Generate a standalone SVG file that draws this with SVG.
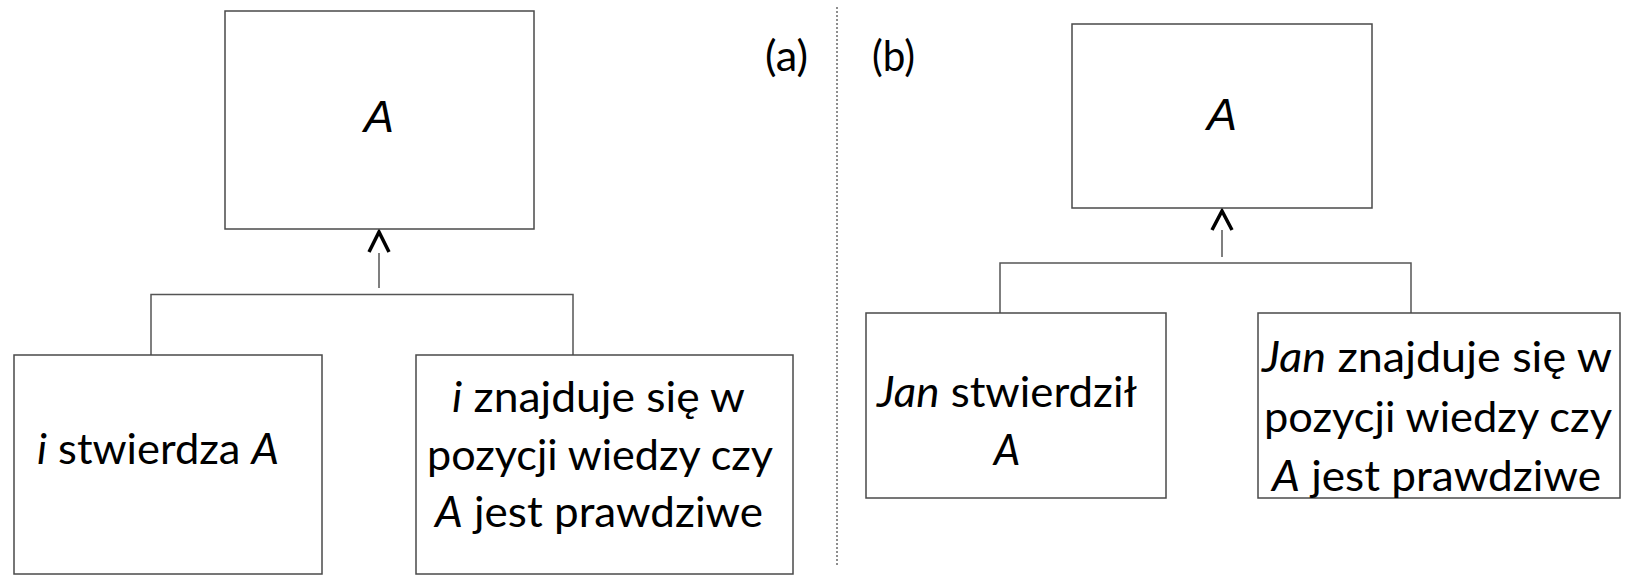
<svg xmlns="http://www.w3.org/2000/svg" width="1625" height="575" viewBox="0 0 1625 575">
  <style>
    .box { fill: #ffffff; stroke: #4a4a4a; stroke-width: 1.5; }
    .conn { fill: none; stroke: #555555; stroke-width: 1.5; }
    .head { fill: none; stroke: #000000; stroke-width: 3.5; stroke-linejoin: miter; }
    .sep { fill: none; stroke: #444444; stroke-width: 1.2; stroke-dasharray: 2 2; }
    .t { font-family: Lato, "Open Sans", "Liberation Sans", sans-serif; font-size: 42px; fill: #000000; }
    .ta { font-family: "Liberation Sans", Arial, sans-serif; font-style: italic; font-size: 45px; fill: #000000; }
    .it { font-style: italic; }
  </style>
  <rect width="1625" height="575" fill="#ffffff"/>

  <g id="separator">
    <line class="sep" x1="837" y1="7" x2="837" y2="565"/>
  </g>

  <g id="labels">
    <text class="t" x="765" y="71" textLength="43" lengthAdjust="spacingAndGlyphs">(a)</text>
    <text class="t" x="872" y="71" textLength="43" lengthAdjust="spacingAndGlyphs">(b)</text>
  </g>

  <g id="connectors">
    <!-- panel (a) -->
    <line class="conn" x1="379" y1="253" x2="379" y2="288"/>
    <polyline class="head" points="369,252 379,232 389,252"/>
    <polyline class="conn" points="151,355 151,294.5 573,294.5 573,355"/>
    <!-- panel (b) -->
    <line class="conn" x1="1222" y1="230" x2="1222" y2="257"/>
    <polyline class="head" points="1212,230 1222,211 1232,230"/>
    <polyline class="conn" points="1000,313 1000,263 1411,263 1411,313"/>
  </g>

  <g id="a-top">
    <rect class="box" x="225" y="11" width="309" height="218"/>
    <text class="ta" x="379" y="132" text-anchor="middle">A</text>
  </g>

  <g id="a-left">
    <rect class="box" x="14" y="355" width="308" height="219"/>
    <text class="t" x="37" y="464" textLength="242" lengthAdjust="spacingAndGlyphs"><tspan class="it">i</tspan> stwierdza <tspan class="it">A</tspan></text>
  </g>

  <g id="a-right">
    <rect class="box" x="416" y="355" width="377" height="219"/>
    <text class="t" x="452" y="412" textLength="293" lengthAdjust="spacingAndGlyphs"><tspan class="it">i</tspan> znajduje się w</text>
    <text class="t" x="427" y="470" textLength="346" lengthAdjust="spacingAndGlyphs">pozycji wiedzy czy</text>
    <text class="t" x="435" y="527" textLength="328" lengthAdjust="spacingAndGlyphs"><tspan class="it">A</tspan> jest prawdziwe</text>
  </g>

  <g id="b-top">
    <rect class="box" x="1072" y="24" width="300" height="184"/>
    <text class="ta" x="1222" y="130" text-anchor="middle">A</text>
  </g>

  <g id="b-left">
    <rect class="box" x="866" y="313" width="300" height="185"/>
    <text class="t" x="877" y="407" textLength="260" lengthAdjust="spacingAndGlyphs"><tspan class="it">Jan</tspan> stwierdził</text>
    <text class="t it" x="1007" y="465" text-anchor="middle">A</text>
  </g>

  <g id="b-right">
    <rect class="box" x="1258" y="313" width="362" height="185"/>
    <text class="t" x="1262" y="372" textLength="350" lengthAdjust="spacingAndGlyphs"><tspan class="it">Jan</tspan> znajduje się w</text>
    <text class="t" x="1264" y="432" textLength="348" lengthAdjust="spacingAndGlyphs">pozycji wiedzy czy</text>
    <text class="t" x="1272" y="491" textLength="329" lengthAdjust="spacingAndGlyphs"><tspan class="it">A</tspan> jest prawdziwe</text>
  </g>
</svg>
